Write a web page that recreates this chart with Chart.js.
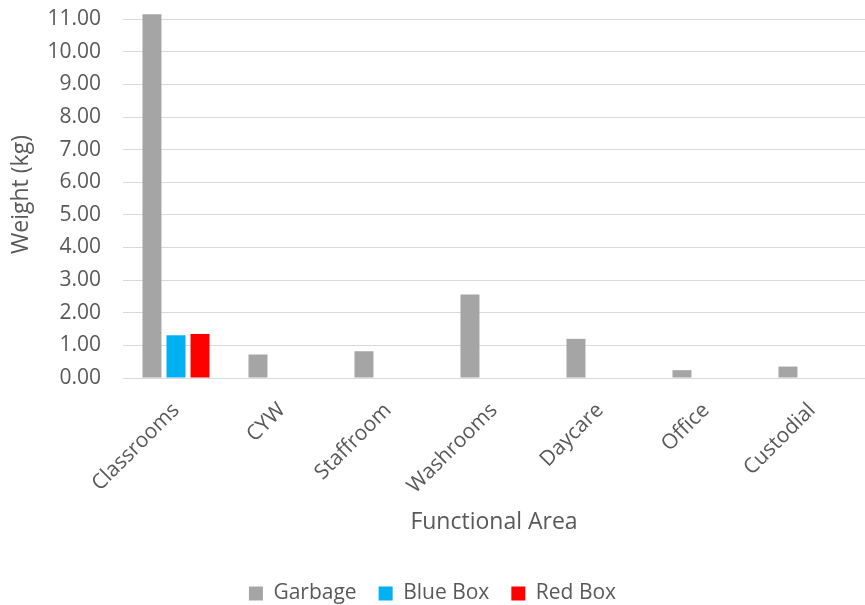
<!DOCTYPE html>
<html>
<head>
<meta charset="utf-8">
<script src="https://cdn.jsdelivr.net/npm/chart.js@4"></script>
<style>
  html, body { margin: 0; padding: 0; background: #fff; }
  #wrap { width: 865px; height: 605px; position: relative; }
</style>
</head>
<body>
<div id="wrap"><canvas id="chart"></canvas></div>
<script>
const areas = ["Classrooms", "CYW", "Staffroom", "Washrooms", "Daycare", "Office", "Custodial"];
const garbage = [11.15, 0.72, 0.82, 2.56, 1.20, 0.24, 0.35];
const blueBox = [1.31, 0, 0, 0, 0, 0, 0];
const redBox = [1.35, 0, 0, 0, 0, 0, 0];
const yTicks = [0, 1, 2, 3, 4, 5, 6, 7, 8, 9, 10, 11];

const textColor = "#595959";
const gridColor = "#d9d9d9";
const fontFamily = "'Open Sans', Lato, sans-serif";

const ctx = document.getElementById("chart").getContext("2d");
new Chart(ctx, {
  type: "bar",
  data: {
    labels: areas,
    datasets: [
      { label: "Garbage", data: garbage, backgroundColor: "#a5a5a5" },
      { label: "Blue Box", data: blueBox, backgroundColor: "#00b0f0" },
      { label: "Red Box", data: redBox, backgroundColor: "#ff0000" }
    ]
  },
  options: {
    responsive: true,
    maintainAspectRatio: false,
    animation: false,
    categoryPercentage: 0.68,
    barPercentage: 0.79,
    // negative bottom pulls the legend row lower without shrinking item spacing
    layout: { padding: { top: 11, right: 0, left: 0, bottom: -9 } },
    plugins: {
      tooltip: { enabled: false },
      legend: {
        position: "bottom",
        labels: {
          color: textColor,
          font: { family: fontFamily, size: 21 },
          boxWidth: 14,
          boxHeight: 14,
          padding: 22
        }
      }
    },
    scales: {
      x: {
        grid: { display: false },
        border: { color: gridColor, width: 1 },
        ticks: {
          color: textColor,
          font: { family: fontFamily, size: 21 },
          minRotation: 45,
          maxRotation: 45,
          padding: 12
        },
        title: {
          display: true,
          text: "Functional Area",
          color: textColor,
          font: { family: fontFamily, size: 23 },
          padding: { top: 0, bottom: 25 }
        },
        // fixed axis box so the plot keeps its size
        afterFit: s => {
          s.height = 183;
          s.paddingLeft = 0;
          s.paddingRight = 0;
        }
      },
      y: {
        min: 0,
        max: 11.25,
        afterBuildTicks: axis => { axis.ticks = yTicks.map(v => ({ value: v })); },
        grid: { color: gridColor, lineWidth: 1, drawTicks: false },
        border: { display: false },
        ticks: {
          color: textColor,
          font: { family: fontFamily, size: 21 },
          padding: 22,
          callback: v => Number(v).toFixed(2)
        },
        title: {
          display: true,
          text: "Weight (kg)",
          color: textColor,
          font: { family: fontFamily, size: 23 },
          padding: { top: 8, bottom: 4 }
        },
        afterFit: s => {
          s.width = 123;
          s.paddingTop = 0;
          s.paddingBottom = 0;
        }
      }
    }
  }
});
</script>
</body>
</html>
